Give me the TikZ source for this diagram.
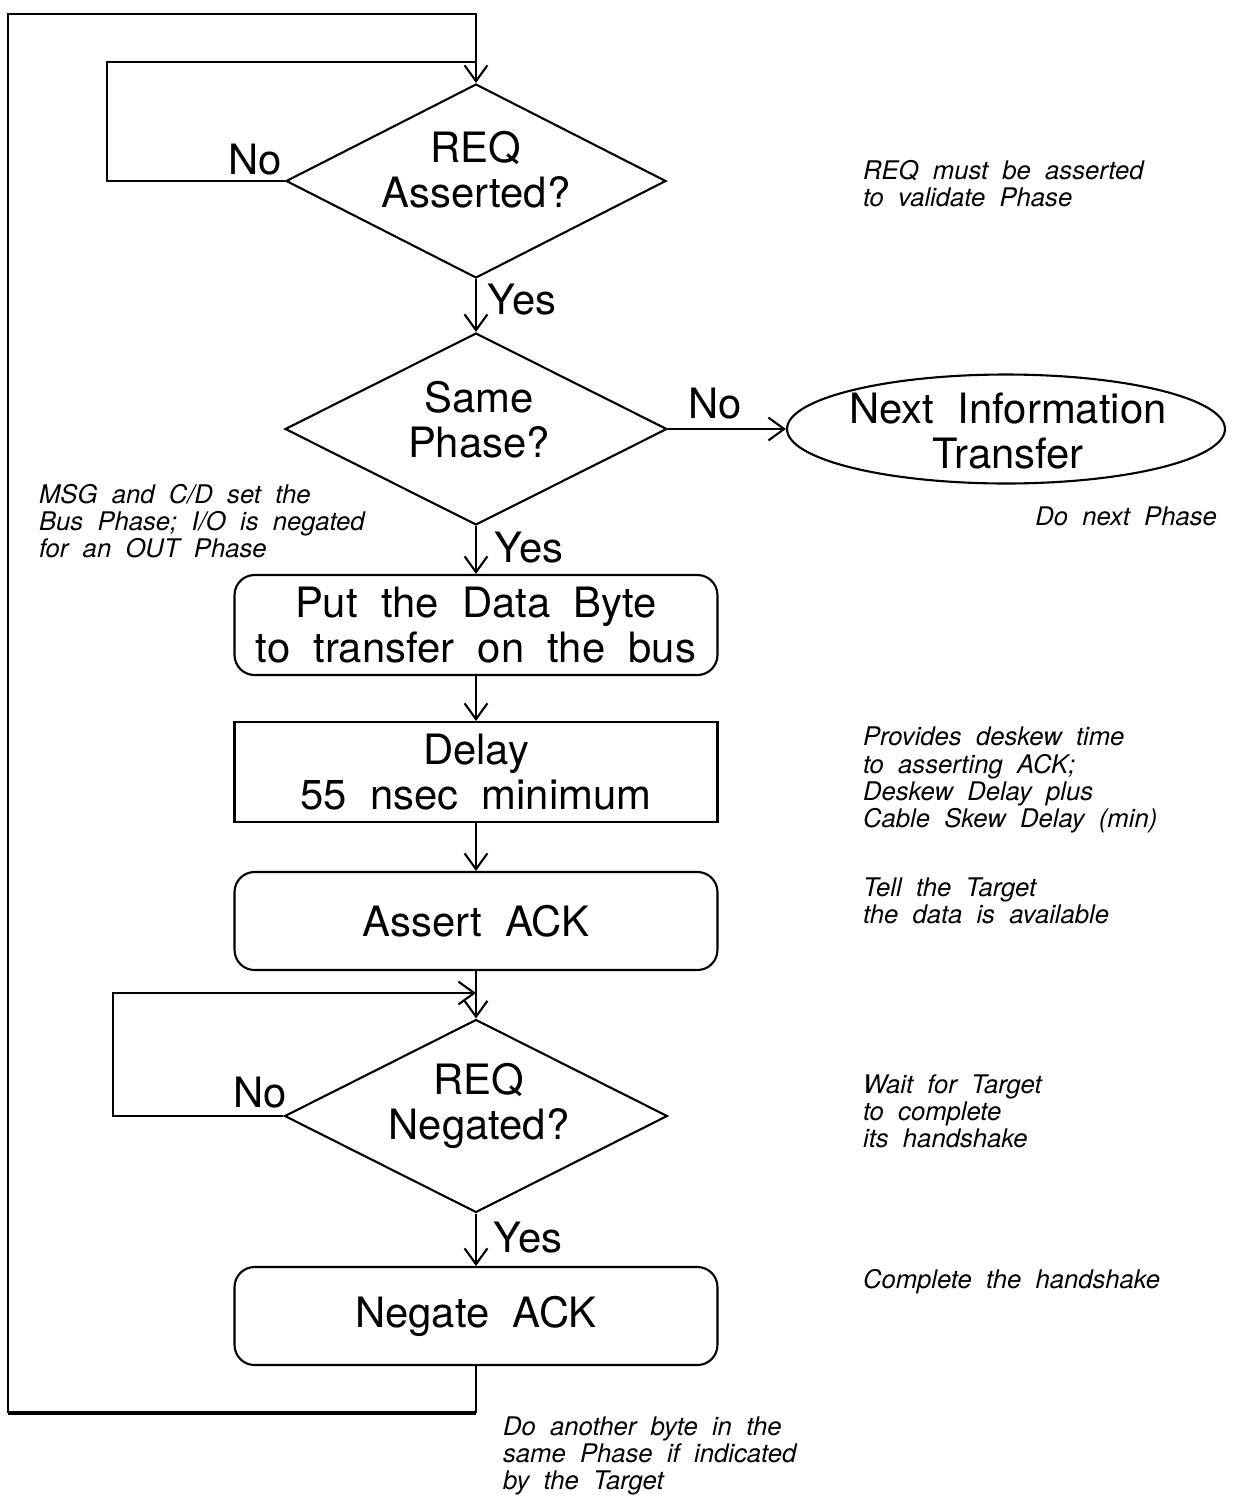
\documentclass[tikz,border=0pt]{standalone}
\usepackage{fontspec}
\setmainfont{TeX Gyre Heros}[WordSpace=2]
\usetikzlibrary{shapes.geometric,arrows.meta}
\begin{document}
\begin{tikzpicture}[x=0.02cm,y=-0.02cm,
  line width=1.2pt,
  flow/.style={-{Straight Barb[length=9pt,width=13pt,line width=1.2pt]}},
  big/.style={font=\fontsize{23.8}{25.5}\selectfont, align=center, inner sep=0pt},
  note/.style={font=\fontsize{14.6}{15.4}\selectfont\itshape, align=left, inner sep=0pt},
  decision/.style={diamond, draw, inner sep=0pt},
  proc/.style={draw, rounded corners=0.4cm, minimum width=9.66cm, big},
  plain/.style={draw, minimum width=9.66cm, big},
  tag/.style={font=\fontsize{23.8}{25.5}\selectfont, inner sep=0pt}]

\useasboundingbox (0,0) rectangle (1239,1498);

% decisions
\node[decision, minimum width=7.6cm, minimum height=3.88cm] (d1) at (476,181) {};
\node[big] (d1t) at (476,170) {REQ\\Asserted?};
\node[decision, minimum width=7.64cm, minimum height=3.84cm] (d2) at (476,429) {};
\node[big] (d2t) at (479,420) {Same\\Phase?};
\node[decision, minimum width=7.66cm, minimum height=3.86cm] (d3) at (476,1116) {};
\node[big] (d3t) at (479,1106) {REQ\\Negated?};

% exit to the next phase
\node[ellipse, draw, minimum width=8.76cm, minimum height=2.18cm] (nit) at (1006,429) {};
\node[big] (nitt) at (1008,431) {Next Information\\Transfer};

% process steps
\node[proc, minimum height=2cm] (b1) at (476,625) {Put the Data Byte\\to transfer on the bus};
\node[plain, minimum height=2cm] (b2) at (476,772) {Delay\\55 nsec minimum};
\node[proc, minimum height=1.96cm] (b3) at (476,921) {Assert ACK};
\node[proc, minimum height=1.96cm] (b4) at (476,1316) {Negate ACK};

% main flow
\draw[flow] (d1.south) -- (d2.north);
\draw[flow] (d2.east) -- (nit.west);
\draw[flow] (d2.south) -- (b1.north);
\draw[flow] (b1.south) -- (b2.north);
\draw[flow] (b2.south) -- (b3.north);
\draw[flow] (b3.south) -- (d3.north);
\draw[flow] (d3.south) -- (b4.north);

% wait for REQ asserted
\coordinate (l1c) at (107,62);
\coordinate (l1j) at (d1.north |- l1c);
\draw (d1.west) -| (l1c) -- (l1j);

% wait for REQ negated
\coordinate (l3c) at (113,993);
\coordinate (l3j) at (d3.north |- l3c);
\draw[flow] (d3.west) -| (l3c) -- (l3j);

% return for the next byte
\coordinate (retb) at (476,1413);
\coordinate (retl) at (8,1413);
\coordinate (rett) at (8,14);
\draw (b4.south) -- (retb);
\draw[line width=2.8pt] (retb) -- (retl);
\draw[flow] (retl) -- (rett) -| (d1.north);

% branch labels
\node[tag] (n1) at (255,160) {No};
\node[tag] (y1) at (522,300) {Yes};
\node[tag] (n2) at (715,404) {No};
\node[tag] (y2) at (529,548) {Yes};
\node[tag] (n3) at (260,1093) {No};
\node[tag] (y3) at (528,1238) {Yes};

% comments
\node[note, anchor=west] (c1) at (862,184) {REQ must be asserted\\to validate Phase};
\node[note, anchor=west] (c2) at (38,521) {MSG and C/D set the\\Bus Phase; I/O is negated\\for an OUT Phase};
\node[note, anchor=east] (c3) at (1218,516) {Do next Phase};
\node[note, anchor=west] (c4) at (862,780) {Provides deskew time\\to asserting ACK;\\Deskew Delay plus\\Cable Skew Delay (min)};
\node[note, anchor=west] (c5) at (862,901) {Tell the Target\\the data is available};
\node[note, anchor=west] (c6) at (862,1111) {Wait for Target\\to complete\\its handshake};
\node[note, anchor=west] (c7) at (862,1282) {Complete the handshake};
\node[note, anchor=west] (c8) at (502,1456) {Do another byte in the\\same Phase if indicated\\by the Target};
\end{tikzpicture}
\end{document}
